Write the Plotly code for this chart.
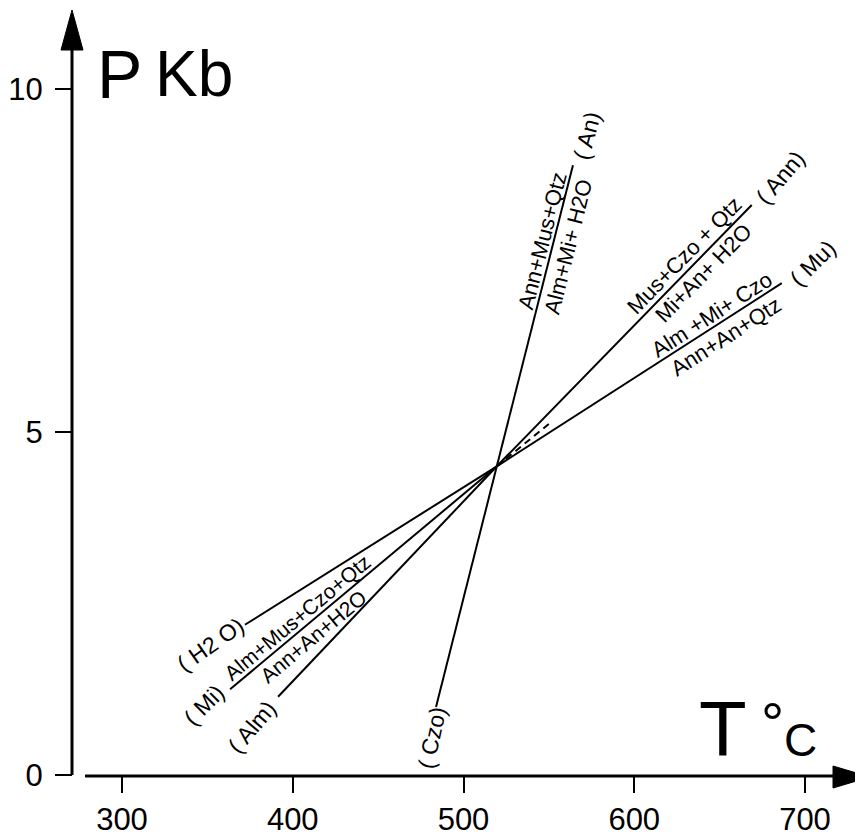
import math
import plotly.graph_objects as go

# ---------------- data ----------------
x_ticks = [300, 400, 500, 600, 700]
y_ticks = [0, 5, 10]

inv_T = 519.5   # invariant point T (°C)
inv_P = 4.5     # invariant point P (kb)

# stable half-lines from the invariant point (absent phase, end T, end P)
absent = ["(An)", "(Czo)", "(Ann)", "(Alm)", "(Mu)", "(H2O)", "(Mi)"]
end_T = [564.1, 483.9, 668.8, 391.4, 686.4, 372.0, 363.3]
end_P = [8.89, 0.99, 8.31, 1.14, 7.17, 2.19, 1.25]

# metastable extension of the (Mi) reaction
meta_T = [519.5, 551.6]
meta_P = [4.5, 5.15]

# reaction texts: (line, upper text, lower text)
reaction_line = ["(An)", "(Ann)", "(Mu)", "(Mi)"]
reaction_top = ["Ann+Mus+Qtz", "Mus+Czo + Qtz", "Alm +Mi+ Czo", "Alm+Mus+Czo+Qtz"]
reaction_bot = ["Alm+Mi+ H2O", "Mi+An+ H2O", "Ann+An+Qtz", "Ann+An+H2O"]

# ---------------- geometry helpers (screen pixel <-> data) ----------------
SW, SH = 863, 836          # browser window
OFF = 8                    # default page body margin
W, H = SW - OFF, SH - OFF  # figure size
PX_PER_T = 1.7075
PX_PER_P = 68.6
X300 = 122                 # screen column of T = 300
Y0PX = 775                 # screen row of P = 0


def T(sx):
    return 300 + (sx - X300) / PX_PER_T


def P(sy):
    return (Y0PX - sy) / PX_PER_P


def px_of(t):
    return X300 + (t - 300) * PX_PER_T


def py_of(p):
    return Y0PX - p * PX_PER_P


x_range = [T(OFF), T(SW)]
y_range = [P(SH), P(OFF)]

fig = go.Figure()

# reaction lines
for name, t1, p1 in zip(absent, end_T, end_P):
    fig.add_trace(go.Scatter(x=[inv_T, t1], y=[inv_P, p1], mode="lines",
                             line=dict(color="black", width=2),
                             hoverinfo="skip", showlegend=False, name=name))
fig.add_trace(go.Scatter(x=meta_T, y=meta_P, mode="lines",
                         line=dict(color="black", width=2, dash="7px,5px"),
                         hoverinfo="skip", showlegend=False))

# axes lines and arrow heads
shapes = []
shapes.append(dict(type="line", xref="x", yref="y", x0=T(72), x1=T(72),
                   y0=0, y1=P(48), line=dict(color="black", width=3)))
shapes.append(dict(type="line", xref="x", yref="y", x0=T(85), x1=T(835),
                   y0=P(776), y1=P(776), line=dict(color="black", width=3)))
shapes.append(dict(type="path", xref="x", yref="y",
                   path=f"M {T(72)} {P(10)} L {T(61)} {P(50)} L {T(83)} {P(50)} Z",
                   fillcolor="black", line=dict(color="black", width=1)))
shapes.append(dict(type="path", xref="x", yref="y",
                   path=f"M {T(870)} {P(777)} L {T(833)} {P(766)} L {T(833)} {P(788)} Z",
                   fillcolor="black", line=dict(color="black", width=1)))

FONT = "Liberation Sans, Arial, sans-serif"
annotations = []


def lab(text, sx, sy, ang, size=22, family=FONT):
    annotations.append(dict(x=T(sx), y=P(sy), xref="x", yref="y", text=text,
                            showarrow=False, textangle=ang,
                            xanchor="center", yanchor="middle",
                            font=dict(family=family, size=size, color="black")))


# end labels (absent phases)
lab("( An)", 587, 136, -75, 23)
lab("( Ann)", 780, 178, -50, 23)
lab("( Mu)", 813, 263, -45, 23)
lab("( H2 O)", 210, 645, -35, 23)
lab("( Mi)", 204, 705, -45, 23)
lab("( Alm)", 252, 727, -50, 23)
lab("( Czo)", 432, 738, -78, 23)

# reaction texts placed along their line (s: px from invariant, offsets in px)
along = {"(An)": 230, "(Ann)": 282, "(Mu)": 263, "(Mi)": 250}
off_top = {"(An)": 11, "(Ann)": 13, "(Mu)": 11, "(Mi)": 12}
off_bot = {"(An)": -15, "(Ann)": -13, "(Mu)": -15, "(Mi)": -13}
sizes = {"(An)": 22, "(Ann)": 22, "(Mu)": 22, "(Mi)": 21}
ipx, ipy = px_of(inv_T), py_of(inv_P)
for ln, top, bot in zip(reaction_line, reaction_top, reaction_bot):
    k = absent.index(ln)
    ex, ey = px_of(end_T[k]), py_of(end_P[k])
    dx, dy = ex - ipx, ey - ipy
    L = math.hypot(dx, dy)
    ux, uy = dx / L, dy / L
    if uy > 0:
        ux, uy = -ux, -uy
    nx, ny = uy, -ux
    if ny > 0:
        nx, ny = -nx, -ny
    ang = math.degrees(math.atan2(uy, ux))
    s = along[ln]
    bx = ipx + (dx / L) * s
    by = ipy + (dy / L) * s
    lab(top, bx + nx * off_top[ln], by + ny * off_top[ln], ang, sizes[ln])
    lab(bot, bx + nx * off_bot[ln], by + ny * off_bot[ln], ang, sizes[ln])

# axis titles
lab("P", 119, 74, 0, 68)
lab("Kb", 194, 74, 0, 64)
lab("T", 723, 729, 0, 78)
lab("°", 772, 722, 0, 58)
lab("C", 800, 740, 0, 46)

axis_common = dict(showline=False, showgrid=False, zeroline=False,
                   automargin=False, tickmode="array",
                   ticks="outside", ticklen=17, tickwidth=2, tickcolor="black",
                   tickfont=dict(family=FONT, size=31, color="black"))

fig.update_layout(
    width=W, height=H,
    margin=dict(l=0, r=0, t=0, b=0, pad=0, autoexpand=False),
    paper_bgcolor="white", plot_bgcolor="white",
    shapes=shapes, annotations=annotations,
    xaxis=dict(range=x_range, anchor="free", position=(SH - Y0PX) / H,
               tickvals=x_ticks, ticktext=[str(v) for v in x_ticks],
               ticklabelstandoff=0, **axis_common),
    yaxis=dict(range=y_range, anchor="free", position=(72 - OFF) / W,
               tickvals=y_ticks, ticktext=[str(v) for v in y_ticks],
               ticklabelstandoff=6, **axis_common),
)

fig.write_html("out.html")
